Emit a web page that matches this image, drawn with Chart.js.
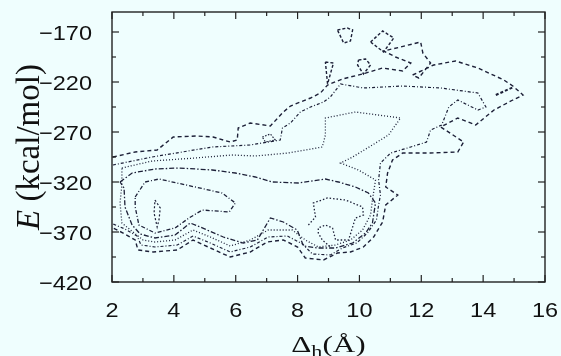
<!DOCTYPE html>
<html><head><meta charset="utf-8">
<script src="https://cdn.jsdelivr.net/npm/chart.js@4/dist/chart.umd.min.js"></script>
<style>html,body{margin:0;padding:0;background:#effefe;}canvas{display:block}</style>
</head><body>
<canvas id="c" width="561" height="356"></canvas>
<script>
// ---- axis data ----
const xTicks = [2, 4, 6, 8, 10, 12, 14, 16];
const xMinorTicks = [3, 5, 7, 9, 11, 13, 15];
const yTicks = [-420, -370, -320, -270, -220, -170];
const yMinorTicks = [-395, -345, -295, -245, -195];
const xRange = [2, 16];
const yRange = [-420, -150];

// ---- contour lines (x = Δh in Å, y = E in kcal/mol) ----
const contourOuter = [[2.03,-295],[2.75,-290],[3.46,-288],[3.98,-275],[4.75,-274],[5.27,-275],[5.82,-280],[6.05,-278],[6.08,-266],[6.47,-261],[7.12,-264],[7.54,-250],[7.77,-244],[8.42,-236],[8.74,-231],[8.97,-223],[9.45,-217],[10.10,-212],[10.75,-206],[11.40,-209],[11.66,-201],[11.17,-195],[10.78,-189],[11.33,-185],[11.98,-180],[12.05,-191],[12.30,-201],[11.92,-216],[11.72,-213],[12.40,-203],[13.11,-199],[13.83,-206],[14.67,-218],[14.96,-224],[15.29,-233],[14.96,-238],[14.35,-248],[13.76,-263],[13.18,-256],[12.63,-265],[13.37,-280],[13.18,-290],[12.30,-291],[11.40,-291],[11.07,-298],[10.91,-311],[10.85,-325],[11.24,-333],[10.85,-343],[10.75,-360],[10.46,-375],[10.13,-385],[9.71,-390],[9.29,-391],[8.84,-398],[8.25,-396],[8.00,-385],[7.54,-378],[7.02,-380],[6.47,-390],[5.82,-395],[5.18,-386],[4.62,-378],[4.11,-388],[3.33,-390],[2.84,-388],[2.75,-378],[2.36,-371],[2.03,-366]];
const contourMid1 = [[2.03,-303],[3.30,-295],[5.24,-285],[6.47,-283],[7.44,-278],[7.51,-266],[7.77,-261],[8.09,-250],[8.42,-245],[8.84,-240],[9.06,-235],[9.39,-222],[10.13,-226],[11.40,-224],[12.63,-226],[13.83,-231],[14.09,-245],[13.83,-248],[13.18,-238],[12.89,-245],[12.66,-263],[12.30,-268],[12.17,-280],[11.66,-285],[11.01,-291],[10.68,-301],[10.62,-318],[10.68,-333],[10.62,-343],[10.55,-358],[10.26,-371],[9.91,-381],[9.45,-386],[9.06,-393],[8.48,-392],[8.16,-382],[7.67,-374],[7.05,-375],[6.47,-385],[5.82,-390],[5.18,-381],[4.62,-374],[4.11,-383],[3.39,-385],[2.94,-383],[2.81,-374],[2.42,-367],[2.03,-362]];
const contourMid2 = [[2.32,-306],[3.30,-299],[4.69,-296],[5.89,-293],[6.63,-294],[7.70,-291],[8.80,-285],[8.90,-273],[8.90,-256],[9.87,-250],[11.33,-256],[10.94,-273],[10.42,-283],[9.78,-295],[9.39,-301],[9.97,-308],[10.52,-318],[10.42,-338],[10.36,-353],[10.10,-368],[9.71,-378],[9.23,-383],[8.67,-385],[8.25,-378],[7.83,-368],[7.05,-368],[6.47,-378],[5.82,-384],[5.18,-375],[4.62,-368],[4.04,-378],[3.39,-380],[3.00,-378],[2.68,-370],[2.32,-361],[2.26,-341],[2.32,-323],[2.32,-306]];
const contourInner1 = [[2.26,-320],[2.65,-311],[3.39,-307],[4.17,-306],[5.24,-308],[5.99,-311],[6.63,-315],[7.18,-320],[8.03,-321],[8.90,-317],[9.32,-320],[9.87,-325],[10.29,-331],[10.52,-341],[10.42,-361],[10.20,-371],[9.78,-381],[9.23,-386],[8.67,-386],[8.19,-384],[7.99,-368],[7.54,-360],[7.12,-356],[6.70,-378],[6.24,-381],[5.60,-375],[4.85,-365],[4.53,-361],[4.04,-373],[3.39,-376],[2.91,-372],[2.65,-363],[2.42,-345],[2.39,-326],[2.26,-320]];
const contourInner2 = [[2.75,-335],[3.07,-320],[3.52,-317],[4.69,-325],[5.56,-331],[5.99,-341],[5.79,-350],[4.92,-348],[4.49,-356],[4.04,-366],[3.39,-371],[2.87,-363],[2.75,-345],[2.75,-335]];
const islandLeft = [[3.39,-338],[3.56,-346],[3.52,-358],[3.46,-365],[3.36,-351],[3.39,-338]];
const innerRight = [[8.35,-363],[8.58,-355],[8.51,-341],[8.97,-336],[9.55,-338],[10.10,-345],[10.13,-353],[9.87,-356],[9.65,-378],[9.23,-378],[9.13,-366],[8.90,-363],[8.67,-366],[8.67,-371],[8.80,-378],[9.06,-385]];
const islandDiamond = [[10.36,-180],[10.75,-169],[11.11,-176],[10.78,-190],[10.36,-180]];
const islandPentagon = [[9.29,-168],[9.61,-166],[9.78,-168],[9.71,-179],[9.49,-181],[9.29,-168]];
const islandSmall = [[9.97,-198],[10.20,-197],[10.36,-203],[10.13,-212],[9.94,-203],[9.97,-198]];
const islandSpike = [[8.90,-200],[9.16,-201],[8.97,-222],[8.90,-200]];
const islandTriangle = [[6.86,-275],[7.12,-272],[7.28,-278],[6.96,-280],[6.86,-275]];
const shortMark = [[14.41,-233],[14.99,-225]];

const BG = '#effefe';
const INK = '#1d2038';
const pts = a => a.map(p => ({x: p[0], y: p[1]}));
const ds = (arr, dash, w) => ({data: pts(arr), borderDash: dash, borderWidth: w || 1.3,
  borderColor: INK, showLine: true, pointRadius: 0, fill: false, tension: 0});

const bgPlugin = {id: 'bg', beforeDraw(c) {
  const g = c.ctx; g.save(); g.fillStyle = BG; g.fillRect(0, 0, c.width, c.height); g.restore();
}};

const XS = 1.12; // horizontal text stretch
const framePlugin = {id: 'frame', afterDraw(c) {
  const g = c.ctx, a = c.chartArea, sx = c.scales.x, sy = c.scales.y;
  g.save();
  g.strokeStyle = '#222'; g.lineWidth = 1.4; g.setLineDash([]);
  g.strokeRect(a.left, a.top, a.right - a.left, a.bottom - a.top);
  g.lineWidth = 1.2;
  const line = (x1, y1, x2, y2) => { g.beginPath(); g.moveTo(x1, y1); g.lineTo(x2, y2); g.stroke(); };
  const xt = (v, len) => { const p = sx.getPixelForValue(v); line(p, a.bottom, p, a.bottom - len); line(p, a.top, p, a.top + len); };
  const yt = (v, len) => { const p = sy.getPixelForValue(v); line(a.left, p, a.left + len, p); line(a.right, p, a.right - len, p); };
  xTicks.forEach(v => xt(v, 7)); xMinorTicks.forEach(v => xt(v, 4));
  yTicks.forEach(v => yt(v, 7)); yMinorTicks.forEach(v => yt(v, 4));

  g.fillStyle = '#111';
  g.font = '21px "Liberation Sans", Arial, sans-serif';
  g.textBaseline = 'alphabetic';
  const stretched = (t, x, y, align) => { g.save(); g.translate(x, y); g.scale(XS, 1); g.textAlign = align; g.fillText(t, 0, 0); g.restore(); };
  xTicks.forEach(v => stretched(String(v), sx.getPixelForValue(v), a.bottom + 35, 'center'));
  yTicks.forEach(v => stretched(String(v).replace('-', '\u2212'), a.left - 20, sy.getPixelForValue(v) + 7.5, 'right'));

  // y title
  g.save();
  g.translate(a.left - 73, (a.top + a.bottom) / 2);
  g.rotate(-Math.PI / 2);
  const fI = 'italic 33px "Liberation Serif", "Times New Roman", serif';
  const fN = '33px "Liberation Serif", "Times New Roman", serif';
  g.font = fI; const wE = g.measureText('E').width;
  g.font = fN; const rest = ' (kcal/mol)'; const wR = g.measureText(rest).width;
  const s0 = -(wE + wR) / 2;
  g.textAlign = 'left';
  g.font = fI; g.fillText('E', s0, 0);
  g.font = fN; g.fillText(rest, s0 + wE, 0);
  g.restore();

  // x title
  const XT = 1.3;
  const fM = '24px "Liberation Serif", "Times New Roman", serif';
  const fS = '17px "Liberation Serif", "Times New Roman", serif';
  g.font = fM; const wD = g.measureText('\u0394').width; const wP = g.measureText('(\u00C5)').width;
  g.font = fS; const wh = g.measureText('h').width;
  const tot = (wD + wh + wP) * XT;
  let cx = (a.left + a.right) / 2 - tot / 2;
  const by = a.bottom + 70;
  const put = (t, f, w, dy) => { g.save(); g.font = f; g.translate(cx, by + dy); g.scale(XT, 1); g.textAlign = 'left'; g.fillText(t, 0, 0); g.restore(); cx += w * XT; };
  put('\u0394', fM, wD, 0); put('h', fS, wh, 5); put('(\u00C5)', fM, wP, 0);
  g.restore();
}};

new Chart(document.getElementById('c'), {
  type: 'scatter',
  data: {datasets: [
    ds(contourOuter, [4, 3], 1.4),
    ds(contourMid1, [3, 2, 1, 2], 1.2),
    ds(contourMid2, [1, 2], 1.3),
    ds(contourInner1, [5, 2, 1.5, 2], 1.3),
    ds(contourInner2, [4, 2, 1, 2], 1.3),
    ds(islandLeft, [2, 2], 1.2),
    ds(innerRight, [1.5, 2], 1.3),
    ds(islandDiamond, [3, 2], 1.4),
    ds(islandPentagon, [3, 2], 1.4),
    ds(islandSmall, [3, 2], 1.4),
    ds(islandSpike, [3, 2], 1.4),
    ds(islandTriangle, [1.5, 1.5], 1.2),
    ds(shortMark, [3, 2], 2)
  ]},
  options: {
    responsive: false, animation: false,
    layout: {padding: {top: 12, right: 16, left: 0, bottom: 0}},
    plugins: {legend: {display: false}, tooltip: {enabled: false}},
    scales: {
      x: {type: 'linear', min: xRange[0], max: xRange[1],
          grid: {display: false}, border: {display: false},
          ticks: {display: false},
          afterFit: s => { s.height = 74; }},
      y: {type: 'linear', min: yRange[0], max: yRange[1],
          grid: {display: false}, border: {display: false},
          ticks: {display: false},
          afterFit: s => { s.width = 112; }}
    }
  },
  plugins: [bgPlugin, framePlugin]
});
</script>
</body></html>
